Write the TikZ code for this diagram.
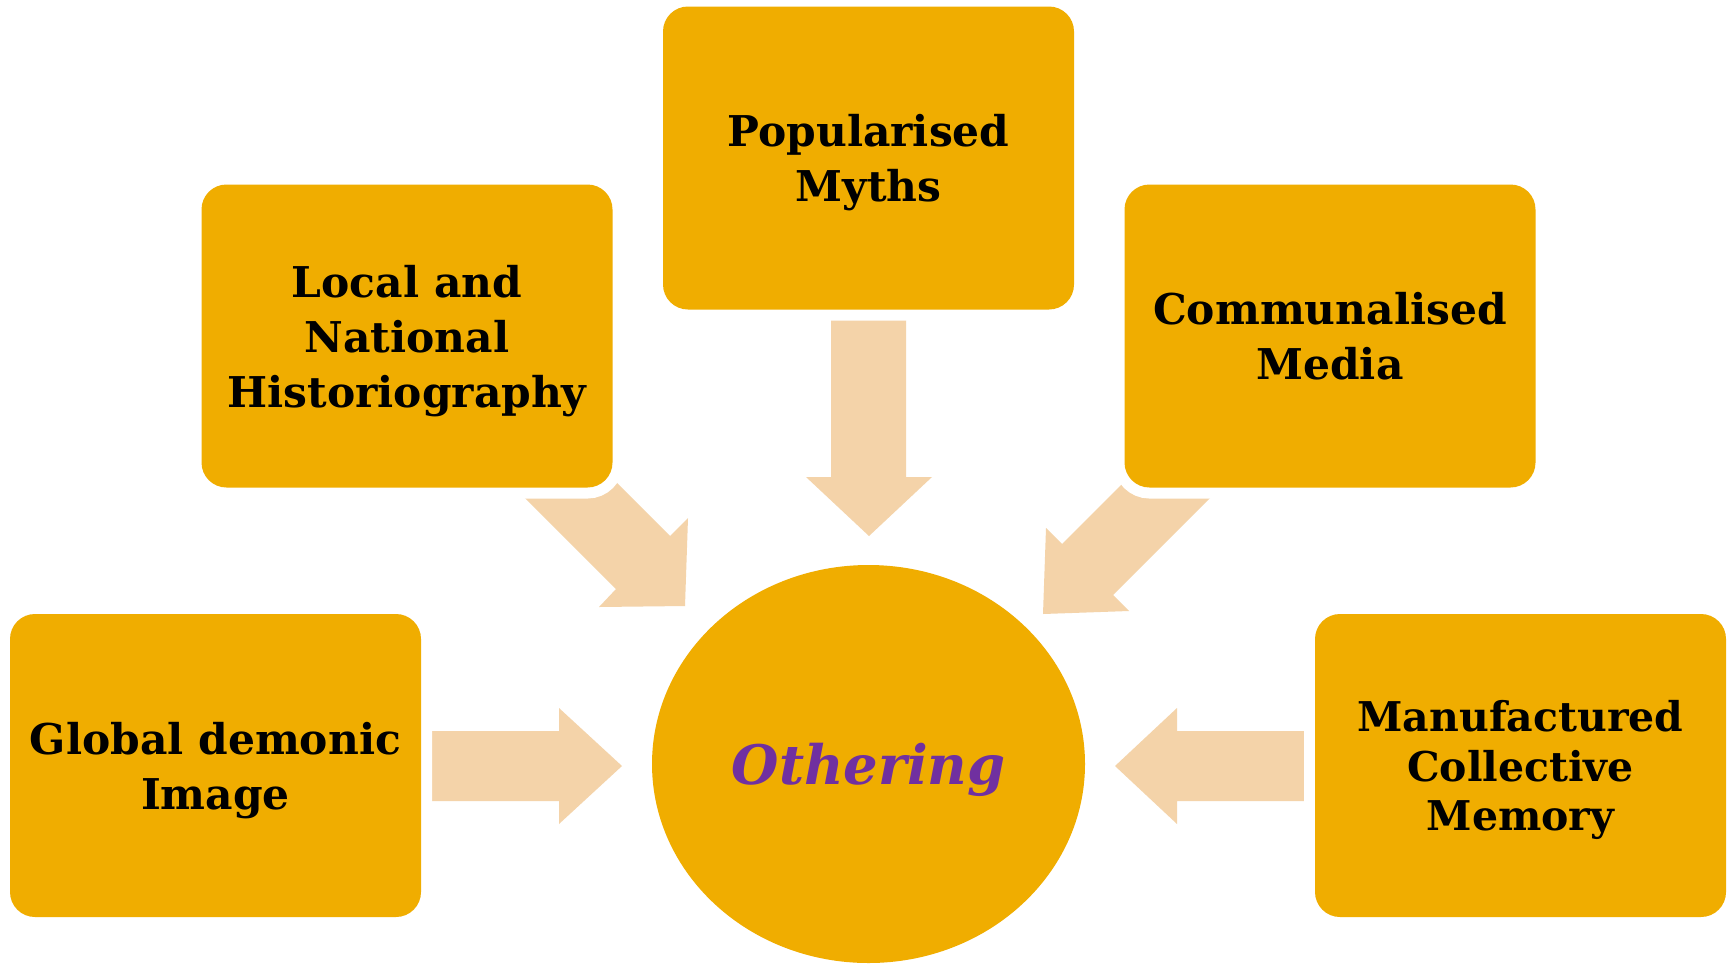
\documentclass[tikz,border=0pt]{standalone}
\usepackage{fontspec}
\setmainfont{DejaVu Serif}
\usetikzlibrary{shapes.geometric}
\definecolor{boxorange}{HTML}{F0AD00}
\definecolor{peach}{HTML}{F4D3A9}
\definecolor{othpurple}{HTML}{7030A0}
\begin{document}
\begin{tikzpicture}[x=0.5pt,y=-0.5pt,
  boxnode/.style={rectangle, rounded corners=12.5pt, fill=boxorange,
    preaction={draw=white, line width=11pt},
    minimum width=205.5pt, minimum height=151.5pt, inner sep=0pt, text depth=0pt,
    align=center, text=black, font=\bfseries\fontsize{21.2}{27.5}\selectfont},
  blockarrow/.style={fill=peach, draw=none}]
\useasboundingbox (0,0) rectangle (1733,964);
\fill[white] (0,0) rectangle (1733,964);
% arrows
\fill[blockarrow] (500,473) -- (616,589) -- (599,607) -- (685,606) -- (688,518) -- (670,536) -- (553.5,419.5) -- cycle;
\fill[blockarrow] (1240,468) -- (1113,595) -- (1129,611) -- (1043,614) -- (1046,528) -- (1062,544) -- (1189,417) -- cycle;
\fill[blockarrow] (831,300) -- (831,477) -- (806,477) -- (869,536) -- (932,477) -- (906,477) -- (906,300) -- cycle;
\fill[blockarrow] (425,731) -- (559,731) -- (559,708) -- (622,766) -- (559,824) -- (559,801) -- (425,801) -- cycle;
\fill[blockarrow] (1310,731) -- (1177,731) -- (1177,708) -- (1115,766) -- (1177,824) -- (1177,801) -- (1310,801) -- cycle;
% boxes
\node[boxnode] (myths) at (868.5,158) {Popularised\\Myths};
\node[boxnode] (local) at (407,336) {Local and\\National\\Historiography};
\node[boxnode] (media) at (1330,336) {Communalised\\Media};
\node[boxnode] (global) at (215.5,765.5) {Global demonic\\Image};
\node[boxnode, font=\bfseries\fontsize{20.5}{24.9}\selectfont] (memory) at (1520.5,765.5) {Manufactured\\Collective\\Memory};
% centre
\node[ellipse, fill=boxorange, minimum width=216.5pt, minimum height=199pt, inner sep=0pt, text depth=0pt,
  text=othpurple, font=\bfseries\itshape\fontsize{27.2}{34}\selectfont] (othering) at (868.5,764) {Othering};
\end{tikzpicture}
\end{document}
